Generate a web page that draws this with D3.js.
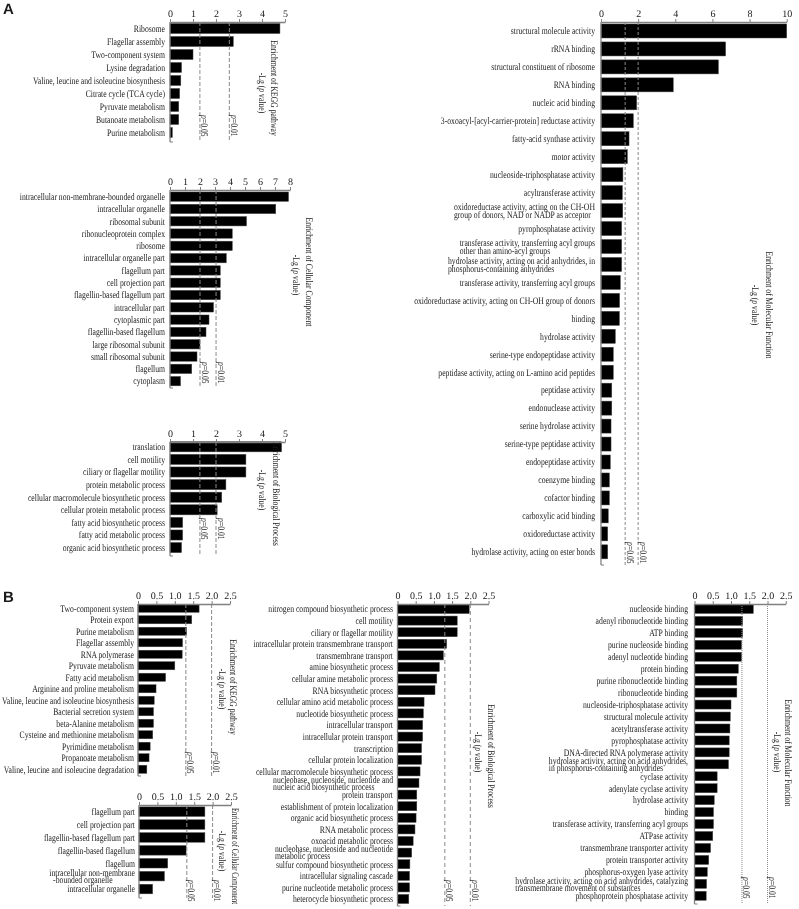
<!DOCTYPE html>
<html><head><meta charset="utf-8">
<script src="https://cdn.jsdelivr.net/npm/d3@7"></script>
<style>
body{margin:0;background:#fff;}
svg{will-change:transform;}
svg text{font-family:"Liberation Serif","Times New Roman",serif;fill:#1a1a1a;text-rendering:geometricPrecision;}
</style></head><body>
<svg id="c" width="799" height="909"></svg>
<script>
// ---------------- DATA ----------------
const aKeggLabels = ["Ribosome","Flagellar assembly","Two-component system","Lysine degradation","Valine, leucine and isoleucine biosynthesis","Citrate cycle (TCA cycle)","Pyruvate metabolism","Butanoate metabolism","Purine metabolism"];
const aKeggValues = [4.78, 2.75, 1.0, 0.5, 0.47, 0.42, 0.38, 0.38, 0.1];
const aKeggTicks = [0,1,2,3,4,5];
const aKeggThresholds = [1.3, 2.58];

const aCCLabels = ["intracellular non-membrane-bounded organelle","intracellular organelle","ribosomal subunit","ribonucleoprotein complex","ribosome","intracellular organelle part","flagellum part","cell projection part","flagellin-based flagellum part","intracellular part","cytoplasmic part","flagellin-based flagellum","large ribosomal subunit","small ribosomal subunit","flagellum","cytoplasm"];
const aCCValues = [7.9, 7.05, 5.1, 4.15, 4.15, 3.75, 3.35, 3.35, 3.35, 2.9, 2.6, 2.4, 2.0, 1.8, 1.45, 0.7];
const aCCTicks = [0,1,2,3,4,5,6,7,8];
const aCCThresholds = [2.0, 3.07];

const aBPLabels = ["translation","cell motility","ciliary or flagellar motility","protein metabolic process","cellular macromolecule biosynthetic process","cellular protein metabolic process","fatty acid biosynthetic process","fatty acid metabolic process","organic acid biosynthetic process"];
const aBPValues = [4.85, 3.3, 3.3, 2.43, 2.25, 2.05, 0.55, 0.55, 0.5];
const aBPTicks = [0,1,2,3,4,5];
const aBPThresholds = [1.3, 2];

const aMFLabels = ["structural molecule activity","rRNA binding","structural constituent of ribosome","RNA binding","nucleic acid binding","3-oxoacyl-[acyl-carrier-protein] reductase activity","fatty-acid synthase activity","motor activity","nucleoside-triphosphatase activity","acyltransferase activity","oxidoreductase activity, acting on the CH-OH\ngroup of donors, NAD or NADP as acceptor","pyrophosphatase activity","transferase activity, transferring acyl groups\nother than amino-acyl groups","hydrolase activity, acting on acid anhydrides, in\nphosphorus-containing anhydrides","transferase activity, transferring acyl groups","oxidoreductase activity, acting on CH-OH group of donors","binding","hydrolase activity","serine-type endopeptidase activity","peptidase activity, acting on L-amino acid peptides","peptidase activity","endonuclease activity","serine hydrolase activity","serine-type peptidase activity","endopeptidase activity","coenzyme binding","cofactor binding","carboxylic acid binding","oxidoreductase activity","hydrolase activity, acting on ester bonds"];
const aMFValues = [10.0, 6.71, 6.32, 3.89, 1.92, 1.74, 1.51, 1.42, 1.18, 1.15, 1.17, 1.11, 1.11, 1.11, 1.04, 1.0, 0.99, 0.77, 0.66, 0.66, 0.58, 0.58, 0.54, 0.54, 0.5, 0.45, 0.45, 0.39, 0.36, 0.36];
const aMFTicks = [0,2,4,6,8,10];
const aMFThresholds = [1.3, 2];

const bKeggLabels = ["Two-component system","Protein export","Purine metabolism","Flagellar assembly","RNA polymerase","Pyruvate metabolism","Fatty acid metabolism","Arginine and proline metabolism","Valine, leucine and isoleucine biosynthesis","Bacterial secretion system","beta-Alanine metabolism","Cysteine and methionine metabolism","Pyrimidine metabolism","Propanoate metabolism","Valine, leucine and isoleucine degradation"];
const bKeggValues = [1.66, 1.46, 1.32, 1.21, 1.2, 1.0, 0.75, 0.49, 0.44, 0.42, 0.42, 0.4, 0.33, 0.3, 0.24];
const bTicks = [0,0.5,1.0,1.5,2.0,2.5];
const bThresholds = [1.3, 2];

const bCCLabels = ["flagellum part","cell projection part","flagellin-based flagellum part","flagellin-based flagellum","flagellum","intracellular non-membrane\n-bounded organelle","intracellular organelle"];
const bCCValues = [1.79, 1.79, 1.79, 1.28, 0.78, 0.69, 0.37];

const bBPLabels = ["nitrogen compound biosynthetic process","cell motility","ciliary or flagellar motility","intracellular protein transmembrane transport","transmembrane transport","amine biosynthetic process","cellular amine metabolic process","RNA biosynthetic process","cellular amino acid metabolic process","nucleotide biosynthetic process","intracellular transport","intracellular protein transport","transcription","cellular protein localization","cellular macromolecule biosynthetic process","nucleobase, nucleoside, nucleotide and\nnucleic acid biosynthetic process","protein transport","establishment of protein localization","organic acid biosynthetic process","RNA metabolic process","oxoacid metabolic process","nucleobase, nucleoside and nucleotide\nmetabolic process","sulfur compound biosynthetic process","intracellular signaling cascade","purine nucleotide metabolic process","heterocycle biosynthetic process"];
const bBPValues = [1.97, 1.64, 1.64, 1.35, 1.26, 1.15, 1.08, 1.03, 0.73, 0.71, 0.69, 0.69, 0.66, 0.66, 0.62, 0.59, 0.53, 0.53, 0.51, 0.48, 0.43, 0.39, 0.34, 0.33, 0.33, 0.31];

const bMFLabels = ["nucleoside binding","adenyl ribonucleotide binding","ATP binding","purine nucleoside binding","adenyl nucleotide binding","protein binding","purine ribonucleotide binding","ribonucleotide binding","nucleoside-triphosphatase activity","structural molecule activity","acetyltransferase activity","pyrophosphatase activity","DNA-directed RNA polymerase activity","hydrolase activity, acting on acid anhydrides,\nin phosphorus-containing anhydrides","cyclase activity","adenylate cyclase activity","hydrolase activity","binding","transferase activity, transferring acyl groups","ATPase activity","transmembrane transporter activity","protein transporter activity","phosphorus-oxygen lyase activity","hydrolase activity, acting on acid anhydrides, catalyzing\ntransmembrane movement of substances","phosphoprotein phosphatase activity"];
const bMFValues = [1.61, 1.32, 1.32, 1.29, 1.29, 1.2, 1.16, 1.16, 1.0, 0.98, 0.97, 0.95, 0.95, 0.93, 0.62, 0.62, 0.54, 0.52, 0.52, 0.5, 0.44, 0.39, 0.35, 0.33, 0.32];

const pLabels = ["0.05", "0.01"];

// ---------------- DRAWING ----------------
const svg = d3.select("#c");
const SX = 0.77;

function panel(labels, values, ticks, thresholds, L) {
  const g = svg.append("g");
  const x = d3.scaleLinear().domain([ticks[0], ticks[ticks.length-1]]).range([L.x0, L.x1]);
  const n = labels.length;
  const y = d3.scaleBand().domain(d3.range(n)).range([L.top, L.top + n * L.step]).paddingInner(L.pad).paddingOuter(L.pad/2);

  g.selectAll("rect.bar").data(values).join("rect").attr("class","bar")
    .attr("x", x(0)).attr("y", (d,i) => y(i))
    .attr("width", d => x(d) - x(0)).attr("height", y.bandwidth())
    .attr("fill", "#000").attr("stroke", "#444").attr("stroke-width", 0.5);

  g.selectAll("line.thr").data(thresholds).join("line").attr("class","thr")
    .attr("x1", d => x(d)).attr("x2", d => x(d))
    .attr("y1", L.axisY).attr("y2", L.bottom)
    .attr("stroke", "#8a8a8a").attr("stroke-width", 1).attr("stroke-dasharray", L.dash || "3,2");

  thresholds.forEach((t, i) => {
    const tx = g.append("text")
      .attr("transform", `translate(${x(t) + 1.5},${L.pY}) rotate(90) scale(${SX},1)`)
      .attr("font-size", 10).attr("text-anchor", "start");
    tx.append("tspan").attr("font-style", "italic").text("p");
    tx.append("tspan").text("=" + pLabels[i]);
  });

  const fmt = L.fmt || (d => d);
  const axg = g.append("g").attr("transform", `translate(0,${L.axisY})`)
    .call(d3.axisTop(x).tickValues(ticks).tickSize(3).tickSizeOuter(0).tickPadding(2).tickFormat(fmt));
  axg.select(".domain").attr("stroke", "#808080").attr("stroke-width", 1.3);
  axg.selectAll(".tick line").attr("stroke", "#808080");
  axg.selectAll(".tick text").attr("font-size", 10).attr("fill", "#1a1a1a")
    .attr("font-family", "'Liberation Serif',serif");

  g.append("line").attr("x1", x(0)).attr("x2", x(0)).attr("y1", L.axisY).attr("y2", L.bottom)
    .attr("stroke", "#808080").attr("stroke-width", 1.3);
  g.append("line").attr("x1", x(0)).attr("x2", x(0) + 3).attr("y1", L.bottom).attr("y2", L.bottom)
    .attr("stroke", "#808080").attr("stroke-width", 1);

  labels.forEach((lab, i) => {
    const yc = y(i) + y.bandwidth() / 2;
    const lines = lab.split("\n");
    const t = g.append("text").attr("font-size", L.fs || 10)
      .attr("transform", `translate(${L.labelX},${yc}) scale(${SX},1)`);
    if (lines.length === 1) {
      t.attr("text-anchor", "end").attr("dy", "0.33em").text(lab);
    } else {
      const t1 = t.append("tspan").attr("text-anchor", "end").attr("x", 0).attr("y", -L.lh/2).attr("dy", "0.33em").text(lines[0]);
      const w = t1.node().getComputedTextLength();
      t.append("tspan").attr("text-anchor", "start").attr("x", -w + (L.indent || 0)).attr("y", L.lh/2).attr("dy", "0.33em").text(lines[1]);
    }
  });

  const ts = L.tScale || SX;
  g.append("text").attr("font-size", 10).attr("text-anchor", "middle").attr("dominant-baseline", "central")
    .attr("transform", `translate(${L.tX},${L.tY}) rotate(90) scale(${ts},1)`).text(L.title);
  const t2 = g.append("text").attr("font-size", 10).attr("text-anchor", "middle").attr("dominant-baseline", "central")
    .attr("transform", `translate(${L.sX},${L.sY}) rotate(90) scale(${SX},1)`);
  t2.append("tspan").text("-Lg (");
  t2.append("tspan").attr("font-style", "italic").text("p");
  t2.append("tspan").text(" value)");
}

const bfmt = d => d === 0 ? "0" : d3.format(".1f")(d);

panel(aKeggLabels, aKeggValues, aKeggTicks, aKeggThresholds,
  {x0:170, x1:285, axisY:22, top:22, step:13, pad:0.23, bottom:142, pY:115, labelX:165,
   title:"Enrichment of KEGG pathway", tX:273, tY:88, sX:262, sY:93, dash:"4,2"});
panel(aCCLabels, aCCValues, aCCTicks, aCCThresholds,
  {x0:170, x1:290, axisY:190, top:190.5, step:12.3, pad:0.24, bottom:388, pY:362, labelX:165,
   title:"Enrichment of Cellular Component", tX:308, tY:272, sX:296, sY:275, dash:"4,2"});
panel(aBPLabels, aBPValues, aBPTicks, aBPThresholds,
  {x0:170, x1:285, axisY:442, top:440.5, step:12.6, pad:0.2, bottom:556, pY:518, labelX:165,
   title:"Enrichment of Biological Process", tX:275, tY:494, sX:262, sY:490, dash:"4,2"});
panel(aMFLabels, aMFValues, aMFTicks, aMFThresholds,
  {x0:601, x1:786.7, axisY:22, top:22, step:17.96, pad:0.22, bottom:565, pY:542, labelX:595, lh:8,
   title:"Enrichment of Molecular Function", tX:768, tY:305, sX:755, sY:305, dash:"3,2"});
panel(bKeggLabels, bKeggValues, bTicks, bThresholds,
  {x0:138, x1:230, axisY:604, top:602.5, step:11.5, pad:0.3, bottom:776, pY:752, labelX:134, fmt:bfmt,
   title:"Enrichment of KEGG pathway", tX:232, tY:687, sX:222, sY:689, dash:"4,2"});
panel(bCCLabels, bCCValues, bTicks, bThresholds,
  {x0:139, x1:231, axisY:805, top:805.2, step:12.9, pad:0.26, bottom:898, pY:880, labelX:135, lh:7.5, indent:5, fmt:bfmt,
   title:"Enrichment of Cellular Component", tX:234, tY:856, tScale:0.68, sX:222, sY:851, dash:"4,2"});
panel(bBPLabels, bBPValues, bTicks, bThresholds,
  {x0:397.5, x1:488.5, axisY:604, top:603.2, step:11.6, pad:0.22, bottom:906, pY:880, labelX:393, lh:7, fmt:bfmt,
   title:"Enrichment of Biological Process", tX:490, tY:756, sX:478, sY:752, dash:"4,3"});
panel(bMFLabels, bMFValues, bTicks, bThresholds,
  {x0:694.5, x1:785.75, axisY:604, top:603, step:11.95, pad:0.25, bottom:904, pY:877, labelX:688, lh:7, fmt:bfmt,
   title:"Enrichment of Molecular Function", tX:787, tY:753, sX:777, sY:752, dash:"1,1"});

svg.append("text").attr("x", 3).attr("y", 14).attr("font-size", 15).attr("font-weight", "bold")
  .style("font-family", "'Liberation Sans',Arial,sans-serif").text("A");
svg.append("text").attr("x", 3).attr("y", 602).attr("font-size", 15).attr("font-weight", "bold")
  .style("font-family", "'Liberation Sans',Arial,sans-serif").text("B");
</script>
</body></html>
